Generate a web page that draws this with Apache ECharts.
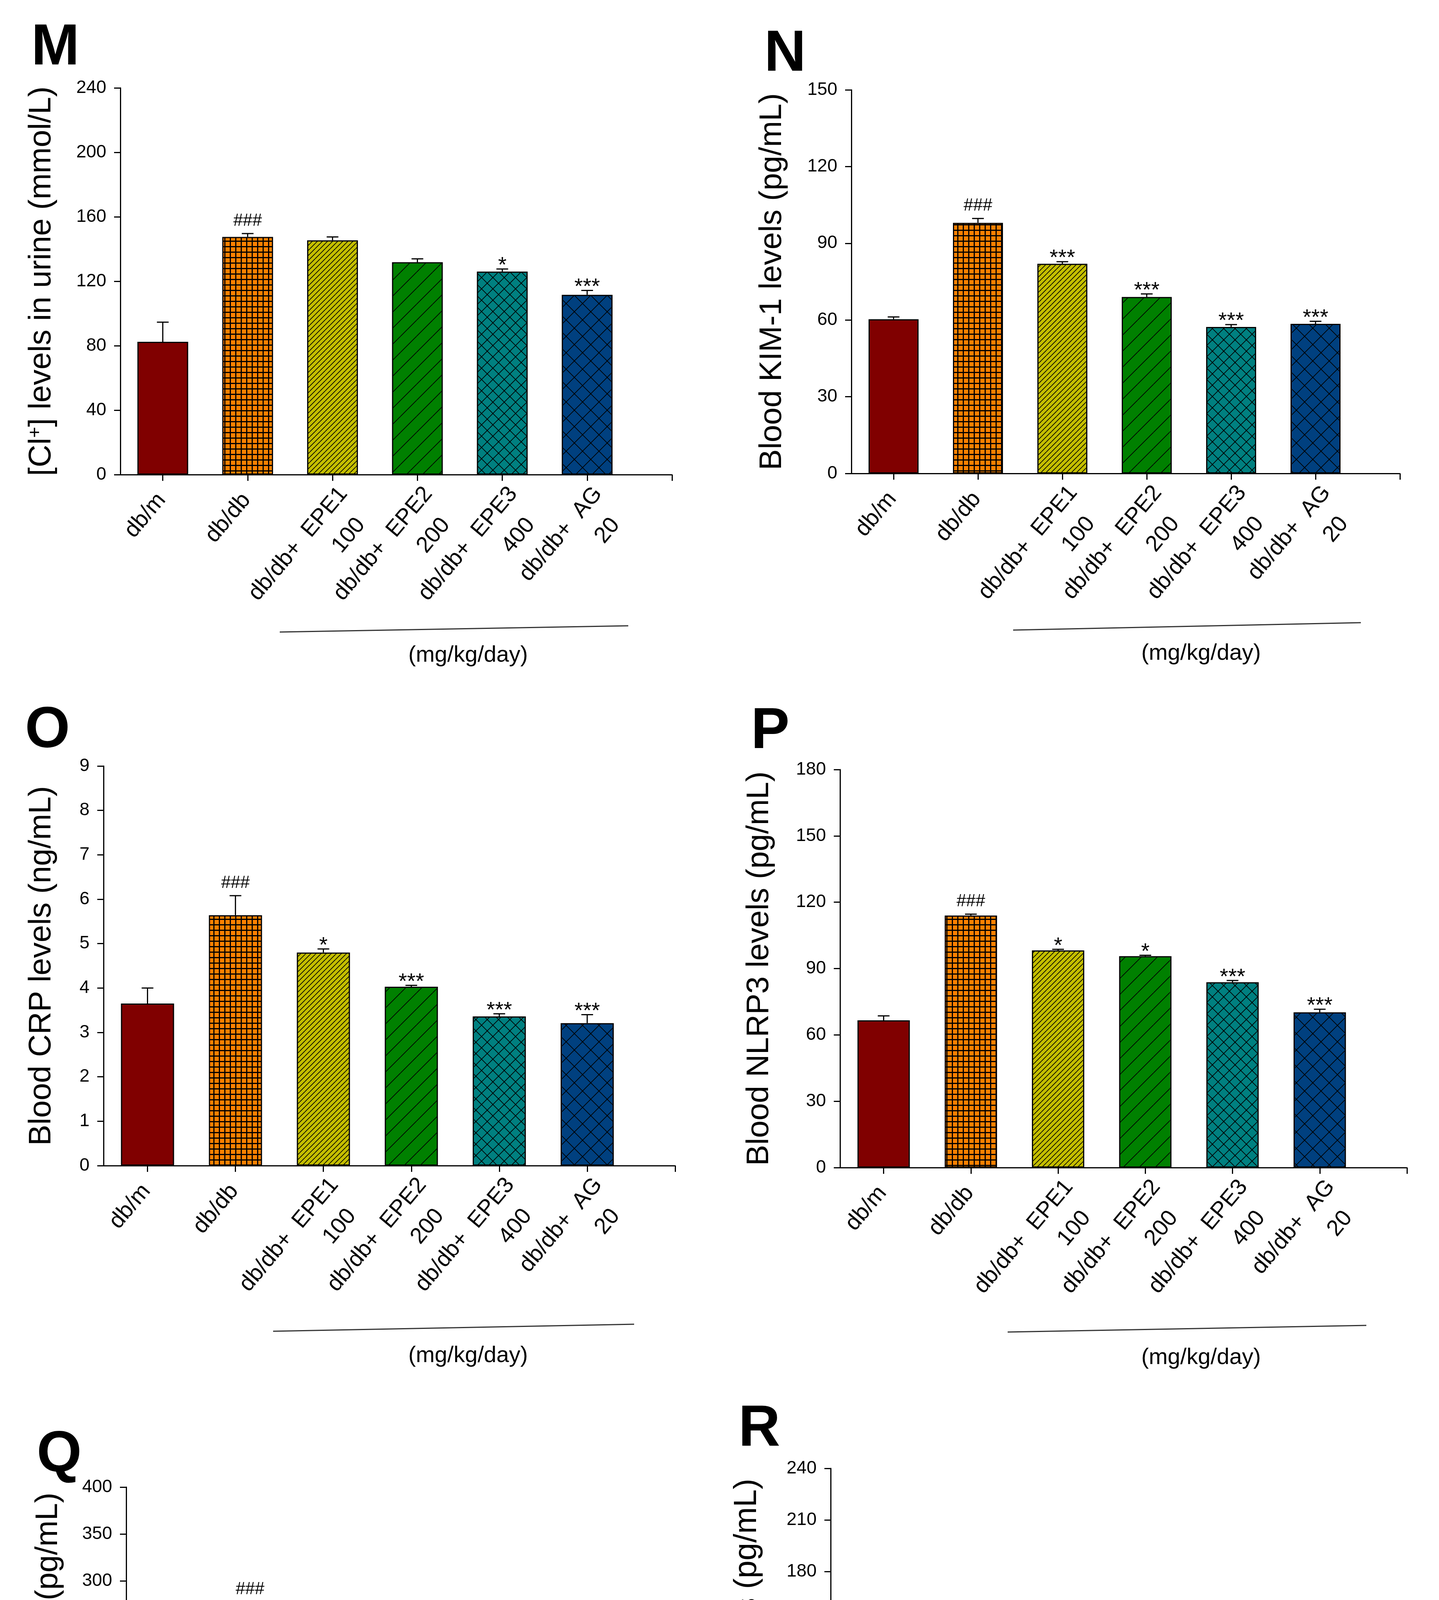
<!DOCTYPE html>
<html><head><meta charset="utf-8">
<script src="https://cdn.jsdelivr.net/npm/echarts@6/dist/echarts.min.js"></script>
<style>html,body{margin:0;padding:0;background:#fff}#c{width:3683px;height:5383px}</style>
</head><body><div id="c"></div>
<script>
// ---------- data ----------
const categories = ['db/m', 'db/db', 'db/db+  EPE1\n100', 'db/db+  EPE2\n200', 'db/db+  EPE3\n400', 'db/db+  AG\n20'];
const doseUnit = '(mg/kg/day)';
const panelLetters = ['M', 'N', 'O', 'P', 'Q', 'R'];
const yTitles = ['[Cl{s|+}] levels in urine (mmol/L)', 'Blood KIM-1 levels (pg/mL)', 'Blood CRP levels (ng/mL)',
                 'Blood NLRP3 levels (pg/mL)', 'Blood IL-18 levels (pg/mL)', 'Blood TNF-\u03b1 levels (pg/mL)'];
const yMax  = [240, 150, 9, 180, 400, 240];
const yStep = [40, 30, 1, 30, 50, 30];

const chlorideMean = [82.4, 147.5, 145.4, 131.8, 126.0, 111.6];
const chlorideErr  = [12.2, 2.1, 2.1, 2.1, 1.6, 2.7];
const chlorideSig  = ['', '###', '', '', '*', '***'];

const kim1Mean = [60.3, 98.0, 82.0, 69.0, 57.3, 58.5];
const kim1Err  = [0.9, 1.7, 0.8, 1.2, 0.9, 1.0];
const kim1Sig  = ['', '###', '***', '***', '***', '***'];

const crpMean = [3.65, 5.64, 4.80, 4.03, 3.36, 3.21];
const crpErr  = [0.35, 0.44, 0.08, 0.03, 0.06, 0.19];
const crpSig  = ['', '###', '*', '***', '***', '***'];

const nlrp3Mean = [66.6, 114.0, 98.2, 95.6, 83.8, 70.2];
const nlrp3Err  = [2.0, 0.6, 0.5, 0.4, 0.8, 1.4];
const nlrp3Sig  = ['', '###', '*', '*', '***', '***'];

const il18Mean = [93.0, 276.9, 251.7, 208.7, 165.6, 191.3];
const il18Err  = [25.2, 1.0, 3.4, 3.4, 1.0, 2.0];
const il18Sig  = ['', '###', '', '***', '***', '***'];

const tnfMean = [75.8, 137.5, 131.6, 114.1, 97.4, 95.2];
const tnfErr  = [11.6, 1.4, 1.4, 1.1, 1.3, 1.3];
const tnfSig  = ['', '###', '', '**', '***', '***'];

const means = [chlorideMean, kim1Mean, crpMean, nlrp3Mean, il18Mean, tnfMean];
const errs  = [chlorideErr, kim1Err, crpErr, nlrp3Err, il18Err, tnfErr];
const sigs  = [chlorideSig, kim1Sig, crpSig, nlrp3Sig, il18Sig, tnfSig];

// ---------- layout (pixels) ----------
const layout = [
  {left: 308,  top: 225,  w: 1412, h: 990,  bar: 130, gap: 161, letter: [80, 50],     unit: [1198, 1678], line: [716, 1618, 1608, 1602]},
  {left: 2179, top: 230,  w: 1404, h: 982,  bar: 128, gap: 162, letter: [1956, 66],   unit: [3074, 1673], line: [2593, 1613, 3483, 1594]},
  {left: 265,  top: 1961, w: 1463, h: 1023, bar: 136, gap: 118, letter: [64, 1798],   unit: [1198, 3471], line: [699, 3408, 1623, 3390]},
  {left: 2150, top: 1970, w: 1451, h: 1019, bar: 134, gap: 166, letter: [1922, 1800], unit: [3074, 3476], line: [2579, 3410, 3497, 3393]},
  {left: 323,  top: 3807, w: 1374, h: 962,  bar: 126, gap: 159, letter: [94, 3652],   unit: [1198, 5231], line: [728, 5169, 1599, 5153]},
  {left: 2126, top: 3759, w: 1515, h: 1057, bar: 140, gap: 173, letter: [1890, 3586], unit: [3092, 5314], line: [2578, 5245, 3533, 5227]}
];
const FONT = '"Liberation Sans", Arial, Helvetica, sans-serif';

// ---------- fill patterns ----------
function makeTile(size, bg, draw) {
  const c = document.createElement('canvas');
  c.width = size; c.height = size;
  const g = c.getContext('2d');
  g.fillStyle = bg; g.fillRect(0, 0, size, size);
  g.strokeStyle = '#000';
  draw(g, size);
  return {image: c, repeat: 'repeat'};
}
function diag(g, s, lw) { // "/" lines, wrapping
  g.lineWidth = lw;
  for (const o of [-s, 0, s]) { g.beginPath(); g.moveTo(o, s); g.lineTo(o + s, 0); g.stroke(); }
}
function anti(g, s, lw) { // "\" lines
  g.lineWidth = lw;
  for (const o of [-s, 0, s]) { g.beginPath(); g.moveTo(o, 0); g.lineTo(o + s, s); g.stroke(); }
}
const fills = [
  '#800000',
  makeTile(14, '#FF8000', (g, s) => { g.fillStyle = '#000'; g.fillRect(0, 0, 3, s); g.fillRect(0, 0, s, 3); }),
  makeTile(13, '#C4BE00', (g, s) => diag(g, s, 1.8)),
  makeTile(41, '#008000', (g, s) => diag(g, s, 1.8)),
  makeTile(29, '#008080', (g, s) => { diag(g, s, 1.8); anti(g, s, 1.8); }),
  makeTile(42, '#00407F', (g, s) => { diag(g, s, 1.8); anti(g, s, 1.8); })
];

// category label as rich text: first line anchored, dose line below
function catLabel(v) {
  const c = categories[Math.round(v)];
  if (c === undefined) return '';
  const parts = c.split('\n');
  if (parts.length === 1) return '{s|' + parts[0] + '  }';
  return '{a|' + parts[0] + '}\n{b|' + parts[1] + '  }';
}
const catRich = {
  s: {fontSize: 58, fontFamily: FONT, color: '#000', lineHeight: 46},
  a: {fontSize: 58, fontFamily: FONT, color: '#000', lineHeight: 73},
  b: {fontSize: 58, fontFamily: FONT, color: '#000', lineHeight: 98}
};

// ---------- option ----------
const grid = [], xAxis = [], yAxis = [], series = [], graphic = [];
layout.forEach((L, i) => {
  grid.push({left: L.left, top: L.top, width: L.w, height: L.h, containLabel: false});
  xAxis.push({
    gridIndex: i, type: 'value', min: -0.5, max: 6,
    axisLine: {show: true, onZero: false, lineStyle: {color: '#000', width: 3}},
    axisTick: {show: true, inside: false, length: 16, customValues: [0, 1, 2, 3, 4, 5, 6], lineStyle: {color: '#000', width: 3}},
    axisLabel: {show: true, customValues: [0, 1, 2, 3, 4, 5], formatter: catLabel, rich: catRich,
      rotate: 50, fontSize: 58, fontFamily: FONT, color: '#000', margin: 16, align: 'right', verticalAlign: 'top'},
    splitLine: {show: false}
  });
  yAxis.push({
    gridIndex: i, type: 'value', min: 0, max: yMax[i], interval: yStep[i],
    axisLine: {show: true, onZero: false, lineStyle: {color: '#000', width: 3}},
    axisTick: {show: true, inside: false, length: 16, lineStyle: {color: '#000', width: 3}},
    axisLabel: {fontSize: 46, fontFamily: FONT, color: '#000', margin: 36},
    splitLine: {show: false},
    name: yTitles[i], nameLocation: 'middle', nameGap: L.gap, nameRotate: 90,
    nameTextStyle: {fontSize: i === 5 ? 82 : 80, fontFamily: FONT, color: '#000',
      rich: {s: {fontSize: 48, fontFamily: FONT, color: '#000', verticalAlign: 'top', lineHeight: 80}}}
  });
  series.push({
    type: 'bar', xAxisIndex: i, yAxisIndex: i, barWidth: L.bar, silent: true,
    data: means[i].map((v, k) => ({value: [k, v], itemStyle: {color: fills[k], borderColor: '#000', borderWidth: 3}}))
  });
  const sg = sigs[i];
  series.push({
    type: 'custom', xAxisIndex: i, yAxisIndex: i, silent: true, z: 5,
    data: means[i].map((v, k) => [k, v, errs[i][k]]),
    renderItem: (params, api) => {
      const x = api.value(0), m = api.value(1), e = api.value(2);
      const b = api.coord([x, m]);
      const t = api.coord([x, m + e]);
      const s = sg[params.dataIndex];
      const ch = [
        {type: 'line', shape: {x1: b[0], y1: b[1], x2: t[0], y2: t[1]}, style: {stroke: '#000', lineWidth: 3}},
        {type: 'line', shape: {x1: t[0] - 15, y1: t[1], x2: t[0] + 15, y2: t[1]}, style: {stroke: '#000', lineWidth: 3}}
      ];
      if (s) {
        const hash = s[0] === '#';
        ch.push({type: 'text', x: t[0], y: t[1] + (hash ? -10 : 20),
          style: {text: s, fontSize: hash ? 44 : 56, fontFamily: FONT, fill: '#000', align: 'center', verticalAlign: 'bottom'}});
      }
      return {type: 'group', children: ch};
    }
  });
  graphic.push({type: 'text', x: L.letter[0], y: L.letter[1],
    style: {text: panelLetters[i], fontSize: 148, fontWeight: 'bold', fontFamily: FONT, fill: '#000', align: 'left', verticalAlign: 'top'}});
  graphic.push({type: 'text', x: L.unit[0], y: L.unit[1],
    style: {text: doseUnit, fontSize: 58, fontFamily: FONT, fill: '#000', align: 'center', verticalAlign: 'middle'}});
  graphic.push({type: 'line', shape: {x1: L.line[0], y1: L.line[1], x2: L.line[2], y2: L.line[3]},
    style: {stroke: '#333', lineWidth: 3}});
});

const chart = echarts.init(document.getElementById('c'), null, {renderer: 'canvas'});
chart.setOption({backgroundColor: '#fff', animation: false, grid, xAxis, yAxis, series, graphic});
</script></body></html>
